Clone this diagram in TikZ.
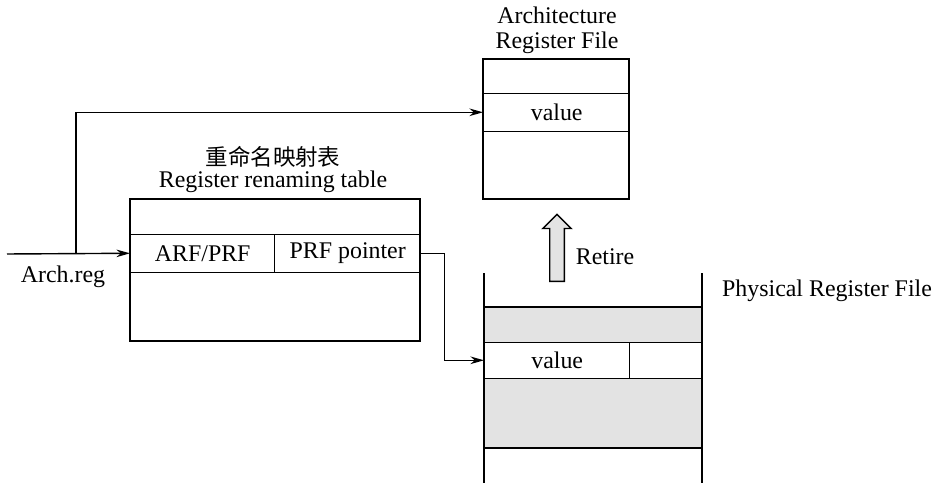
\documentclass[tikz,border=0pt]{standalone}
\usepackage{fontspec}
\setmainfont{Liberation Serif}
\newfontfamily\cjk{Noto Sans CJK SC}
\usepackage{tikz}
\usetikzlibrary{arrows.meta, positioning, shapes.arrows, calc}
\tikzset{
  cell/.style={draw, inner sep=0pt, anchor=south west},
  conn/.style={-{Stealth[length=0.34cm, width=0.19cm]}},
  shade/.style={fill=gray!22, draw=none}
}

\begin{document}
\begin{tikzpicture}[line width=1pt, font=\fontsize{17}{18}\selectfont]
\useasboundingbox (0,0) rectangle (23.45,12.25);

% renaming table
\node[font=\cjk\fontsize{16}{18}\selectfont] (rttitle) at (6.825,8.33) {重命名映射表};
\node (rtname) at (6.825,7.7) {Register renaming table};
\draw (3.25,3.725) rectangle (10.5,7.275);
\node[cell, minimum width=3.6cm, minimum height=0.95cm] (arfprf) at (3.25,5.425) {ARF/PRF};
\node[cell, minimum width=3.65cm, minimum height=0.95cm] (pptr) at (6.85,5.425) {PRF pointer};

% architecture register file
\node[align=center] (arftitle) at (13.925,11.5) {Architecture\\Register File};
\draw (12.075,7.275) rectangle (15.725,10.775);
\node[cell, minimum width=3.65cm, minimum height=0.95cm] (archval) at (12.075,8.95) {value};

% physical register file
\draw[shade] (12.1,3.675) rectangle (17.55,4.575);
\draw[shade] (12.1,1.05) rectangle (17.55,2.775);
\draw (12.1,0.175) -- (12.1,5.425);
\draw (17.55,0.175) -- (17.55,5.425);
\draw (12.1,4.575) -- (17.55,4.575);
\draw (12.1,1.05) -- (17.55,1.05);
\node[cell, minimum width=3.625cm, minimum height=0.9cm] (prfval) at (12.1,2.775) {value};
\node[cell, minimum width=1.825cm, minimum height=0.9cm] (prfrest) at (15.725,2.775) {};
\node (prftitle) at (20.675,4.975) {Physical Register File};

% retire
\node[single arrow, draw, fill=gray!22, shape border rotate=90, inner sep=0.165cm,
      minimum height=1.675cm, single arrow head extend=0.17cm] (retire) at (13.925,5.96) {};
\node (retlbl) at (15.125,5.825) {Retire};

% connectors
\coordinate (archin) at (0.175,5.9);
\coordinate (br) at (1.9,5.9);
\node (archlbl) at (1.575,5.325) {Arch.reg};
\draw[conn] (archin) -- (arfprf.west);
\draw[conn] (br) |- (archval.west);
\draw[conn] (pptr.east) -- ++(0.575,0) |- (prfval.west);
\end{tikzpicture}
\end{document}
